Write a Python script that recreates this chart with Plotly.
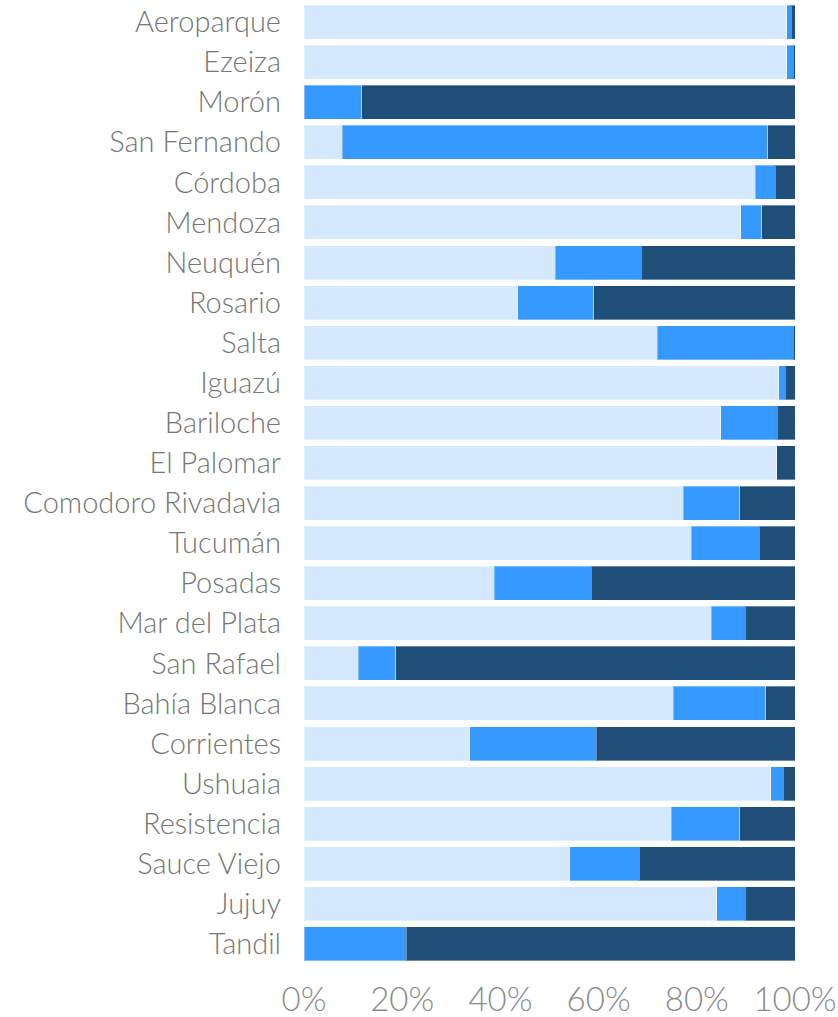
import plotly.graph_objects as go

airports = ["Aeroparque", "Ezeiza", "Morón", "San Fernando", "Córdoba", "Mendoza",
            "Neuquén", "Rosario", "Salta", "Iguazú", "Bariloche", "El Palomar",
            "Comodoro Rivadavia", "Tucumán", "Posadas", "Mar del Plata", "San Rafael",
            "Bahía Blanca", "Corrientes", "Ushuaia", "Resistencia", "Sauce Viejo",
            "Jujuy", "Tandil"]

serie_1 = [98.3, 98.3, 0.0, 7.8, 91.9, 89.0, 51.2, 43.5, 71.9, 96.7, 84.9, 96.3,
           77.2, 78.9, 38.7, 82.9, 11.0, 75.2, 33.8, 95.1, 74.8, 54.1, 84.1, 0.0]
serie_2 = [0.9, 1.3, 11.8, 86.6, 4.1, 4.2, 17.5, 15.5, 27.7, 1.3, 11.5, 0.0,
           11.5, 13.8, 19.8, 7.0, 7.7, 18.8, 25.7, 2.5, 13.9, 14.2, 5.8, 20.8]
serie_3 = [0.8, 0.4, 88.2, 5.6, 4.0, 6.8, 31.3, 41.0, 0.4, 2.0, 3.6, 3.7,
           11.3, 7.3, 41.5, 10.1, 81.3, 6.0, 40.5, 2.4, 11.3, 31.7, 10.1, 79.2]

series = [("Serie 1", serie_1, "#D4E9FD"),
          ("Serie 2", serie_2, "#3599FE"),
          ("Serie 3", serie_3, "#1F4E79")]

fig = go.Figure()
for name, vals, color in series:
    fig.add_trace(go.Bar(
        y=airports, x=vals, name=name, orientation="h",
        marker=dict(color=color, line=dict(color="rgba(255,255,255,0.35)", width=1)),
    ))

fig.update_layout(
    barmode="stack",
    barnorm="percent",
    width=838, height=1017,
    margin=dict(l=304, r=43, t=2, b=53),
    paper_bgcolor="white", plot_bgcolor="white",
    showlegend=False,
    bargap=0.15,
    font=dict(family="Lato", color="#666666"),
)
fig.update_xaxes(
    range=[0, 100], tickvals=[0, 20, 40, 60, 80, 100],
    ticktext=["0%", "20%", "40%", "60%", "80%", "100%"],
    showgrid=False, zeroline=False, showline=False, automargin=False,
    ticklabelstandoff=13,
    tickfont=dict(family="Lato", size=33, color="#8a8a8a", weight=300),
)
fig.update_yaxes(
    autorange="reversed", showgrid=False, showline=False, automargin=False,
    ticklabelstandoff=22,
    tickfont=dict(family="Lato", size=29, color="#767676", weight=300),
)

fig.write_html("out.html", config={"displayModeBar": False},
               post_script="document.body.style.margin='0';")
